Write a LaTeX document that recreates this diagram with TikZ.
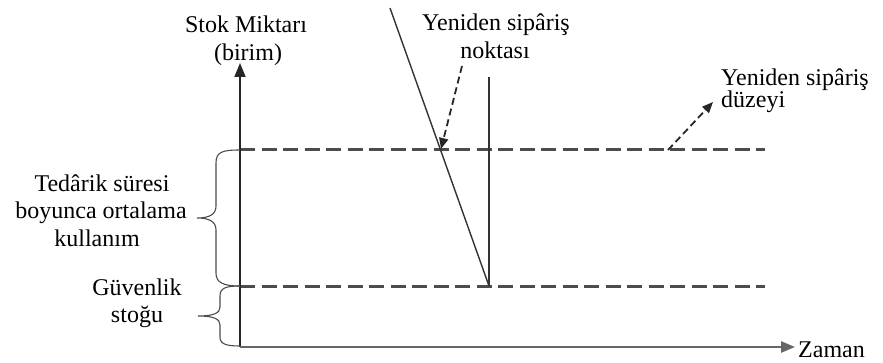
\documentclass[tikz,border=0pt]{standalone}
\usepackage{fontspec}
\setmainfont{Liberation Serif}
\newfontfamily\labelfont{Liberation Serif}
\usetikzlibrary{arrows.meta}
\begin{document}
\begin{tikzpicture}[x=1pt,y=-1pt,
  lbl/.style={inner sep=0pt,font=\labelfont\fontsize{24}{28}\selectfont},
  axis/.style={line width=1.8pt,draw=black!85,-{Triangle[length=14pt,width=11pt]}},
  levelline/.style={line width=3pt,draw=black!70,dash pattern=on 15pt off 6.5pt},
  thinline/.style={line width=1.4pt,draw=black!80},
  pointer/.style={line width=1.8pt,draw=black!85,dash pattern=on 7pt off 4pt,-{Triangle[length=11pt,width=9pt]}},
  bracepath/.style={line width=1.1pt,draw=black!70}]
\useasboundingbox (0,0) rectangle (883,363);
% key points
\coordinate (O) at (240,347);
\coordinate (ytop) at (240,63);
\coordinate (xend) at (795,347);
\coordinate (uL) at (240,150);
\coordinate (uR) at (765,150);
\coordinate (lL) at (240,286);
\coordinate (lR) at (765,286);
\coordinate (sTop) at (390,8);
\coordinate (sBot) at (489,286);
\coordinate (vTop) at (489,77);
\coordinate (rop) at (441,149);
\coordinate (pA) at (462,66);
\coordinate (pB) at (668,150);
\coordinate (pBend) at (713,102);
% labels
\node[lbl,anchor=base] (stok) at (246,33) {Stok Miktarı};
\node[lbl,anchor=base] (birim) at (248,61) {(birim)};
\node[lbl,anchor=base] (yen1) at (496,31) {Yeniden sipâriş};
\node[lbl,anchor=base] (nok) at (495,59) {noktası};
\node[lbl,anchor=base west] (yen2) at (721,86) {Yeniden sipâriş};
\node[lbl,anchor=base west] (duz) at (721,108) {düzeyi};
\node[lbl,anchor=base] (ted1) at (102,192) {Tedârik süresi};
\node[lbl,anchor=base] (ted2) at (101,219) {boyunca ortalama};
\node[lbl,anchor=base] (ted3) at (97,247) {kullanım};
\node[lbl,anchor=base] (guv1) at (137,295) {Güvenlik};
\node[lbl,anchor=base] (guv2) at (137,322) {stoğu};
\node[lbl,anchor=base west] (zam) at (798,357) {Zaman};
% level lines
\draw[levelline] (uL) -- (uR);
\draw[levelline] (lL) -- (lR);
% inventory lines
\draw[thinline] (sTop) -- (sBot);
\draw[thinline] (vTop) -- (sBot);
% axes
\draw[axis] (O) -- (ytop);
\draw[axis,line width=2.6pt,draw=black!60] (O) -- (xend);
% pointers
\draw[pointer] (pA) -- (rop);
\draw[pointer] (pB) -- (pBend);
% braces
\draw[bracepath] (240,150) .. controls (222,150) and (216,152) .. (216,163) -- (216,206)
  .. controls (216,214) and (210,218) .. (197,218)
  .. controls (210,218) and (216,222) .. (216,230) -- (216,273)
  .. controls (216,282) and (222,286) .. (240,286);
\draw[bracepath] (240,286) .. controls (226,286) and (220,288) .. (220,296) -- (220,307)
  .. controls (220,313) and (214,316) .. (198,316)
  .. controls (214,316) and (220,319) .. (220,325) -- (220,337)
  .. controls (220,344) and (226,346) .. (240,346);
\end{tikzpicture}
\end{document}
